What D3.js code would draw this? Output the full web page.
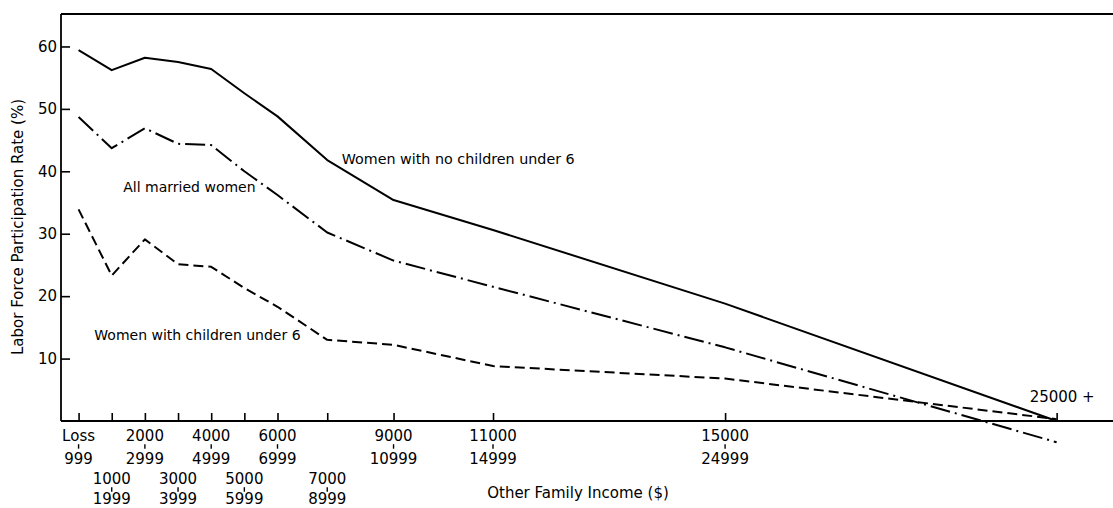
<!DOCTYPE html>
<html>
<head>
<meta charset="utf-8">
<script src="https://cdn.jsdelivr.net/npm/d3@7"></script>
<style>
  html, body { margin: 0; padding: 0; background: #fff; }
  svg { display: block; font-family: "DejaVu Sans", sans-serif; }
</style>
</head>
<body>
<svg id="chart" width="1113" height="508"></svg>
<script>
// ---- data ----
const incomeMid = [500, 1500, 2500, 3500, 4500, 5500, 6500, 8000, 10000, 13000, 20000, 30000];
const labelTop  = ["Loss", "1000", "2000", "3000", "4000", "5000", "6000", "7000", "9000", "11000", "15000", "25000 +"];
const labelBot  = ["999", "1999", "2999", "3999", "4999", "5999", "6999", "8999", "10999", "14999", "24999", ""];
const labelRow  = [0, 1, 0, 1, 0, 1, 0, 1, 0, 0, 0, 2];
const noChildren   = [59.4, 56.2, 58.2, 57.5, 56.4, 52.5, 48.8, 41.8, 35.4, 30.6, 18.8, 0.0];
const allMarried   = [48.7, 43.7, 46.9, 44.4, 44.2, 40.0, 36.2, 30.2, 25.7, 21.5, 11.8, -3.4];
const withChildren = [33.9, 23.3, 29.1, 25.1, 24.7, 21.3, 18.3, 13.0, 12.2, 8.8, 6.8, 0.3];
const yTicks = [10, 20, 30, 40, 50, 60];

// ---- scales ----
const svg = d3.select("#chart");
const x = d3.scaleLinear().domain([0, 31700]).range([62, 1113]);
const y = d3.scaleLinear().domain([0, 65.2]).range([421, 14]);
const axisX = 61, axisY = y(0), topY = y(65.2);

// frame lines
svg.append("line").attr("x1", axisX).attr("x2", 1113).attr("y1", topY).attr("y2", topY)
  .attr("stroke", "#000").attr("stroke-width", 1.8);
svg.append("line").attr("x1", axisX).attr("x2", axisX).attr("y1", topY).attr("y2", axisY)
  .attr("stroke", "#000").attr("stroke-width", 1.8);
svg.append("line").attr("x1", axisX).attr("x2", 1113).attr("y1", axisY).attr("y2", axisY)
  .attr("stroke", "#000").attr("stroke-width", 1.8);

// y axis
const gy = svg.append("g").attr("transform", `translate(${axisX},0)`)
  .call(d3.axisLeft(y).tickValues(yTicks).tickSizeInner(-9).tickSizeOuter(0).tickPadding(4));
gy.select(".domain").remove();
gy.selectAll(".tick line").attr("stroke", "#000").attr("stroke-width", 1.6);
gy.selectAll(".tick text").attr("font-size", 15).attr("font-family", "DejaVu Sans").attr("fill", "#000");

// x axis ticks
const gx = svg.append("g").attr("transform", `translate(0,${axisY})`)
  .call(d3.axisBottom(x).tickValues(incomeMid).tickSizeInner(-8).tickSizeOuter(0).tickFormat(""));
gx.select(".domain").remove();
gx.selectAll(".tick line").attr("stroke", "#000").attr("stroke-width", 1.6);

// x tick labels
const rowOff = [0, 43];
const botOff = [22.6, 20.5];
incomeMid.forEach((v, i) => {
  const cx = x(v);
  const r = labelRow[i];
  if (r === 2) {
    svg.append("text").attr("x", cx - 27).attr("y", 397).attr("dy", "0.35em")
      .attr("font-size", 15).text(labelTop[i]);
    return;
  }
  const base = 435.7 + rowOff[r];
  svg.append("text").attr("x", cx).attr("y", base).attr("dy", "0.35em")
    .attr("text-anchor", "middle").attr("font-size", 15).text(labelTop[i]);
  svg.append("line").attr("x1", cx).attr("x2", cx).attr("y1", base + 8.5).attr("y2", base + 13)
    .attr("stroke", "#000").attr("stroke-width", 1.4);
  svg.append("text").attr("x", cx).attr("y", base + botOff[r]).attr("dy", "0.35em")
    .attr("text-anchor", "middle").attr("font-size", 15).text(labelBot[i]);
});

// axis titles
svg.append("text").attr("transform", "translate(18,227) rotate(-90)")
  .attr("text-anchor", "middle").attr("dy", "0.35em").attr("font-size", 15)
  .text("Labor Force Participation Rate (%)");
svg.append("text").attr("x", 578).attr("y", 492.7).attr("dy", "0.35em")
  .attr("text-anchor", "middle").attr("font-size", 15).text("Other Family Income ($)");

// lines
const line = d3.line().x((d, i) => x(incomeMid[i])).y(d => y(d));
const series = [
  { data: noChildren, dash: null },
  { data: allMarried, dash: "20,5,2,5" },
  { data: withChildren, dash: "10,5" }
];
series.forEach(s => {
  svg.append("path").datum(s.data).attr("d", line)
    .attr("fill", "none").attr("stroke", "#000").attr("stroke-width", 2)
    .attr("stroke-linejoin", "round")
    .attr("stroke-dasharray", s.dash);
});

// series labels
svg.append("text").attr("x", 341.7).attr("y", 159.3).attr("dy", "0.35em").attr("font-size", 14.3)
  .text("Women with no children under 6");
svg.append("text").attr("x", 123.3).attr("y", 187.3).attr("dy", "0.35em").attr("font-size", 14)
  .text("All married women");
svg.append("text").attr("x", 94.3).attr("y", 335).attr("dy", "0.35em").attr("font-size", 14)
  .text("Women with children under 6");
</script>
</body>
</html>
